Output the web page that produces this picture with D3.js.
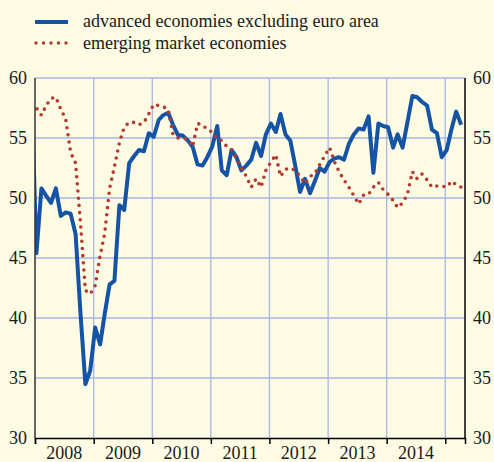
<!DOCTYPE html>
<html><head><meta charset="utf-8">
<script src="https://cdn.jsdelivr.net/npm/d3@7"></script>
<style>html,body{margin:0;padding:0;background:#fdfbe3;}svg{display:block;}</style>
</head><body>
<svg id="chart" width="494" height="462"></svg>
<script>
// Monthly data, first value = December 2007 (partly outside the plot), last = April 2015
const firstMonth = [2007, 11];
const advanced = [
  59.0,
  45.4, 50.8, 50.2, 49.6, 50.8, 48.5, 48.8, 48.7, 47.0, 40.5, 34.5, 35.6,
  39.2, 37.8, 40.3, 42.8, 43.1, 49.4, 49.0, 52.9, 53.5, 54.0, 53.9, 55.4,
  55.1, 56.5, 56.9, 57.1, 56.1, 55.25, 55.2, 54.8, 54.25, 52.8, 52.7, 53.4,
  54.3, 56.0, 52.3, 51.9, 54.0, 53.4, 52.3, 52.7, 53.2, 54.6, 53.5, 55.3,
  56.2, 55.5, 57.0, 55.3, 54.8, 52.7, 50.5, 51.6, 50.4, 51.4, 52.5, 52.2,
  53.0, 53.3, 53.4, 53.2, 54.5, 55.3, 55.8, 55.7, 56.8, 52.1, 56.2, 56.0,
  55.9, 54.2, 55.3, 54.2, 56.3, 58.5, 58.4, 58.0, 57.7, 55.7, 55.4, 53.4,
  54.0, 55.8, 57.2, 56.1
];
const emerging = [
  57.8,
  57.5, 56.9, 57.7, 58.3, 58.4, 57.4, 56.6, 53.8, 52.9, 48.0, 42.3, 42.0,
  42.7, 45.2, 47.0, 50.8, 52.6, 54.6, 55.9, 56.3, 56.3, 56.1, 56.3, 57.0,
  57.8, 57.7, 57.6, 57.4, 55.3, 55.0, 55.0, 54.9, 54.3, 56.2, 56.1, 55.7,
  55.5, 54.9, 54.8, 54.3, 54.0, 53.3, 52.5, 51.8, 50.9, 51.6, 50.9, 52.3,
  53.0, 53.6, 51.8, 52.4, 52.5, 52.3, 51.8, 51.2, 51.8, 52.0, 52.8, 53.5,
  54.2, 53.0, 52.2, 51.5, 50.9, 50.2, 49.5, 50.25, 50.3, 50.9, 51.3, 50.7,
  50.3, 49.8, 49.2, 49.6, 50.3, 52.2, 51.6, 52.0, 51.5, 50.9, 51.0, 51.0,
  50.9, 51.4, 51.1, 50.9
];
const years = [2008, 2009, 2010, 2011, 2012, 2013, 2014];
const yTicks = [30, 35, 40, 45, 50, 55, 60];
const seriesNames = ["advanced economies excluding euro area", "emerging market economies"];

const W = 494, H = 462;
const M = {left: 35, right: 465, top: 78, bottom: 438};
const BLUE = "#1553a4", RED = "#b23a2f", GRID = "#a9b6e2", FONT = "'Liberation Serif','Times New Roman',serif";

const svg = d3.select("#chart");
svg.append("rect").attr("width", W).attr("height", H).attr("fill", "#fdfbe3");

const x = d3.scaleTime()
  .domain([new Date(2008, 0, 1), new Date(2015, 4, 4)])
  .range([M.left, M.right]);
const y = d3.scaleLinear().domain([30, 60]).range([M.bottom, M.top]);

const dateOf = i => new Date(firstMonth[0], firstMonth[1] + i, 10);

// gridlines
const g = svg.append("g");
g.selectAll(".hg").data(yTicks.filter(v => v > 30)).join("line")
  .attr("x1", M.left).attr("x2", M.right)
  .attr("y1", d => y(d)).attr("y2", d => y(d))
  .attr("stroke", GRID).attr("stroke-width", 1.3);
const yearStarts = years.map(yy => new Date(yy, 0, 1)).concat([new Date(2015, 0, 1)]);
g.selectAll(".vg").data(yearStarts.slice(1)).join("line")
  .attr("x1", d => x(d)).attr("x2", d => x(d))
  .attr("y1", M.top).attr("y2", M.bottom)
  .attr("stroke", GRID).attr("stroke-width", 1.3);

// clip
svg.append("clipPath").attr("id", "clip").append("rect")
  .attr("x", M.left).attr("y", M.top - 3).attr("width", M.right - M.left).attr("height", M.bottom - M.top + 3);

const line = d3.line().x((d, i) => x(dateOf(i))).y(d => y(d));
const plot = svg.append("g").attr("clip-path", "url(#clip)");
plot.append("path").datum(advanced).attr("d", line)
  .attr("fill", "none").attr("stroke", BLUE).attr("stroke-width", 4)
  .attr("stroke-linejoin", "round");
plot.append("path").datum(emerging).attr("d", line)
  .attr("fill", "none").attr("stroke", RED).attr("stroke-width", 3.6)
  .attr("stroke-linecap", "round").attr("stroke-dasharray", "0 7.2");

// axes
const axG = svg.append("g");
axG.append("line").attr("x1", M.left).attr("x2", M.left).attr("y1", M.top).attr("y2", M.bottom)
  .attr("stroke", "#333").attr("stroke-width", 1.5);
axG.append("line").attr("x1", M.right).attr("x2", M.right).attr("y1", M.top).attr("y2", M.bottom)
  .attr("stroke", "#000").attr("stroke-width", 1.5);

const xAxis = d3.axisBottom(x).tickValues(yearStarts).tickSize(6).tickFormat("");
const xa = svg.append("g").attr("transform", `translate(0,${M.bottom})`).call(xAxis);
xa.select(".domain").attr("stroke", "#000").attr("stroke-width", 1.5);
xa.selectAll(".tick line").attr("stroke", "#000").attr("stroke-width", 1.5);

svg.append("g").selectAll("text").data(years).join("text")
  .attr("x", d => (x(new Date(d, 0, 1)) + x(new Date(d + 1, 0, 1))) / 2)
  .attr("y", 459).attr("text-anchor", "middle")
  .attr("font-family", FONT).attr("font-size", 18).attr("fill", "#1a1a1a")
  .text(d => d);

const yl = d3.axisLeft(y).tickValues(yTicks).tickSize(0).tickPadding(8);
const yla = svg.append("g").attr("transform", `translate(${M.left},0)`).call(yl);
yla.select(".domain").remove();
yla.selectAll("text").attr("font-family", FONT).attr("font-size", 18).attr("fill", "#1a1a1a");
const yr = d3.axisRight(y).tickValues(yTicks).tickSize(0).tickPadding(8);
const yra = svg.append("g").attr("transform", `translate(${M.right},0)`).call(yr);
yra.select(".domain").remove();
yra.selectAll("text").attr("font-family", FONT).attr("font-size", 18).attr("fill", "#1a1a1a");

// legend
const lg = svg.append("g");
lg.append("line").attr("x1", 35).attr("x2", 68).attr("y1", 22).attr("y2", 22)
  .attr("stroke", BLUE).attr("stroke-width", 4);
lg.append("line").attr("x1", 36).attr("x2", 68).attr("y1", 43).attr("y2", 43)
  .attr("stroke", RED).attr("stroke-width", 3.4).attr("stroke-linecap", "round")
  .attr("stroke-dasharray", "0 7.5");
lg.selectAll("text").data(seriesNames).join("text")
  .attr("x", 83).attr("y", (d, i) => 27 + i * 22)
  .attr("font-family", FONT).attr("font-size", 18).attr("fill", "#1a1a1a")
  .text(d => d);
</script>
</body></html>
